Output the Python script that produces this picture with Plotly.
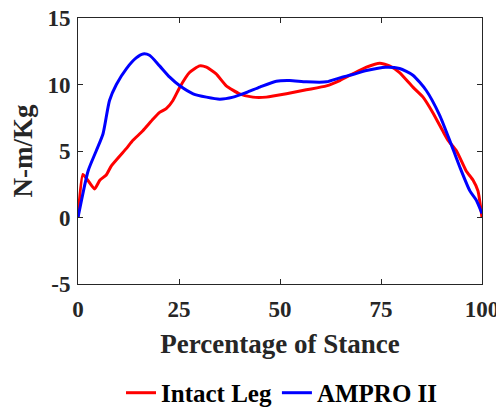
import plotly.graph_objects as go

intact_x = [0, 1.2, 2.2, 4.1, 5.4, 7, 8.3, 12, 13.6, 16, 18.6, 20.2, 21.9, 23.5, 25.2, 27.6, 30.1, 31.8,
            34.2, 36.7, 40, 43.3, 46.6, 51.6, 56.5, 61.5, 64.8, 68, 71.4, 74.7, 77.1, 79.6, 82.9, 85.4,
            87.8, 90.3, 91.6, 93.7, 96.1, 97.8, 99, 100]
intact_y = [0, 3.23, 2.9, 2.15, 2.8, 3.2, 3.9, 5.2, 5.8, 6.5, 7.4, 7.9, 8.2, 8.8, 9.8, 10.9, 11.4, 11.3,
            10.8, 9.9, 9.3, 9.05, 9.05, 9.3, 9.6, 9.9, 10.3, 10.8, 11.3, 11.6, 11.4, 10.9, 9.8, 9.05,
            7.9, 6.5, 5.8, 5.0, 3.5, 2.8, 2.0, 0]

ampro_x = [0, 2.5, 4.5, 6.2, 7.8, 9.5, 12, 14.4, 16.1, 17.7, 20.2, 22.7, 25.2, 28.5, 31.8, 35.1, 38.4,
           41.7, 45, 49.1, 52.4, 56.5, 61.5, 64.8, 68, 71.4, 76.2, 79.6, 82.9, 86.2, 89.5, 92, 94.5,
           97, 98.6, 100]
ampro_y = [0, 3.5, 5.0, 6.3, 8.8, 10.0, 11.2, 12.0, 12.3, 12.2, 11.4, 10.55, 9.9, 9.3, 9.05, 8.9, 9.05,
           9.4, 9.8, 10.25, 10.3, 10.2, 10.2, 10.5, 10.75, 11.05, 11.3, 11.2, 10.7, 9.55, 7.7, 5.8, 3.8,
           2.0, 1.3, 0.3]

x_ticks = [0, 25, 50, 75, 100]
x_ticklabels = ["0", "25", "50", "75", "100"]
y_ticks = [-5, 0, 5, 10, 15]
y_ticklabels = ["-5", "0", "5", "10", "15"]

FONT = "Liberation Serif"
AX = "#262626"

fig = go.Figure()
fig.add_trace(go.Scatter(x=intact_x, y=intact_y, mode="lines", name="<b>Intact Leg</b>",
                         line=dict(color="#FF0000", width=3, shape="spline", smoothing=0.5)))
fig.add_trace(go.Scatter(x=ampro_x, y=ampro_y, mode="lines", name="<b>AMPRO II</b>",
                         line=dict(color="#0000FF", width=3, shape="spline", smoothing=0.6)))

axis_common = dict(showline=True, linecolor=AX, linewidth=1, mirror="ticks", ticks="inside",
                   ticklen=5, tickcolor=AX, showgrid=False, zeroline=False, automargin=False,
                   ticklabeloverflow="allow",
                   tickfont=dict(family=FONT, size=23, color=AX))

# the page body offsets the figure by 8px on both axes, so it is sized/offset to compensate
fig.update_layout(
    width=496, height=401,
    margin=dict(l=70, r=22, t=10, b=125),
    paper_bgcolor="white", plot_bgcolor="white",
    font=dict(family=FONT, color=AX),
    xaxis=dict(range=[0, 100], tickvals=x_ticks, ticktext=["<b>%s</b>" % t for t in x_ticklabels],
               ticklabelstandoff=4,
               title=dict(text="<b>Percentage of Stance</b>", font=dict(family=FONT, size=27, color=AX), standoff=13),
               **axis_common),
    yaxis=dict(range=[-5, 15], tickvals=y_ticks, ticktext=["<b>%s</b>" % t for t in y_ticklabels],
               ticklabelstandoff=2,
               title=dict(text="<b>N-m/Kg</b>", font=dict(family=FONT, size=27, color=AX), standoff=7),
               **axis_common),
    legend=dict(orientation="h", x=0.505, xanchor="center", yref="container", y=0.04, yanchor="middle",
                font=dict(family=FONT, size=25, color="black"),
                bgcolor="rgba(0,0,0,0)"),
    showlegend=True,
)

fig.write_html("out.html")
